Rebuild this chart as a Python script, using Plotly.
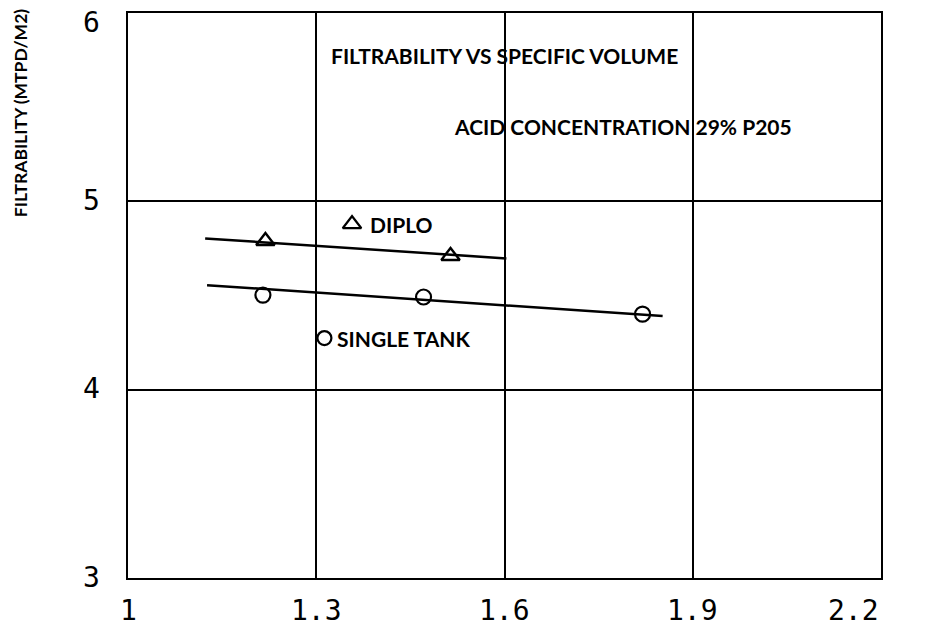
import plotly.graph_objects as go

# ---- data ----
diplo_x = [1.219, 1.514]
diplo_y = [4.789, 4.710]
single_x = [1.215, 1.471, 1.820]
single_y = [4.502, 4.492, 4.401]

diplo_fit_x = [1.123, 1.603]
diplo_fit_y = [4.803, 4.697]
single_fit_x = [1.126, 1.852]
single_fit_y = [4.555, 4.391]

x_ticks = [1.0, 1.3, 1.6, 1.9, 2.2]
x_tick_labels = ["1", "1.3", "1.6", "1.9", "2.2"]
y_ticks = [3, 4, 5, 6]
y_tick_labels = ["3", "4", "5", "6"]

title_1 = "FILTRABILITY VS SPECIFIC VOLUME"
title_2 = "ACID CONCENTRATION 29% P205"
y_title = "FILTRABILITY (MTPD/M2)"
legend_diplo = "DIPLO"
legend_single = "SINGLE TANK"

NARROW = "Lato, Liberation Sans, sans-serif"
MONO = "DejaVu Sans Mono, Liberation Mono, monospace"

fig = go.Figure()

fig.add_trace(go.Scatter(x=diplo_fit_x, y=diplo_fit_y, mode="lines",
                         line=dict(color="black", width=2.5), showlegend=False,
                         hoverinfo="skip"))
fig.add_trace(go.Scatter(x=single_fit_x, y=single_fit_y, mode="lines",
                         line=dict(color="black", width=2.5), showlegend=False,
                         hoverinfo="skip"))
fig.add_trace(go.Scatter(x=diplo_x, y=diplo_y, mode="markers", name=legend_diplo,
                         marker=dict(symbol="triangle-up-open", size=16, color="black",
                                     line=dict(width=2.4)), showlegend=False))
fig.add_trace(go.Scatter(x=single_x, y=single_y, mode="markers", name=legend_single,
                         marker=dict(symbol="circle-open", size=15, color="black",
                                     line=dict(width=2.2)), showlegend=False))

# in-plot legend markers
fig.add_trace(go.Scatter(x=[1.357], y=[4.879], mode="markers",
                         marker=dict(symbol="triangle-up-open", size=16, color="black",
                                     line=dict(width=2.4)), showlegend=False, hoverinfo="skip"))
fig.add_trace(go.Scatter(x=[1.313], y=[4.274], mode="markers",
                         marker=dict(symbol="circle-open", size=14, color="black",
                                     line=dict(width=2.2)), showlegend=False, hoverinfo="skip"))

annotations = [
    dict(x=1.383, y=4.879, text=legend_diplo, xanchor="left"),
    dict(x=1.330, y=4.274, text=legend_single, xanchor="left"),
    dict(x=1.321, y=5.777, text=title_1, xanchor="left"),
    dict(x=1.517, y=5.395, text=title_2, xanchor="left"),
]
for a in annotations:
    fig.add_annotation(xref="x", yref="y", yanchor="middle", showarrow=False,
                       font=dict(family=NARROW, size=21, color="black", weight="bold"), **a)

fig.add_annotation(xref="paper", yref="y", x=-0.143, y=5.47, text=y_title,
                   textangle=-90, showarrow=False, xanchor="center", yanchor="middle",
                   font=dict(family=NARROW, size=17.5, color="black", weight="bold"))

# x tick labels (last one right-aligned to the frame as in the reference)
for i, (v, t) in enumerate(zip(x_ticks, x_tick_labels)):
    last = i == len(x_ticks) - 1
    fig.add_annotation(xref="x", yref="paper", x=v, y=0, yshift=-32, text=t,
                       showarrow=False, xanchor="right" if last else "center",
                       yanchor="middle",
                       font=dict(family=MONO, size=28, color="black"))

# y tick labels (top one kept inside the page, as in the reference)
for i, (v, t) in enumerate(zip(y_ticks, y_tick_labels)):
    top = i == len(y_ticks) - 1
    fig.add_annotation(xref="paper", yref="y", x=0, xshift=-26, y=v, text=t,
                       yshift=9 if top else 1,
                       showarrow=False, xanchor="right",
                       yanchor="top" if top else "middle",
                       font=dict(family=MONO, size=28, color="black"))

fig.update_xaxes(range=[1.0, 2.2], tickvals=x_ticks[1:-1], showticklabels=False,
                 showgrid=True, gridcolor="black", gridwidth=2,
                 showline=True, linecolor="black", linewidth=2, mirror=True,
                 zeroline=False, ticks="")
fig.update_yaxes(range=[3, 6], tickvals=y_ticks[1:-1], showticklabels=False,
                 showgrid=True, gridcolor="black", gridwidth=2,
                 showline=True, linecolor="black", linewidth=2, mirror=True,
                 zeroline=False, ticks="")

fig.update_layout(width=932, height=636, margin=dict(l=128, r=51, t=13, b=58),
                  plot_bgcolor="white", paper_bgcolor="white", showlegend=False)

fig.write_html("out.html")
